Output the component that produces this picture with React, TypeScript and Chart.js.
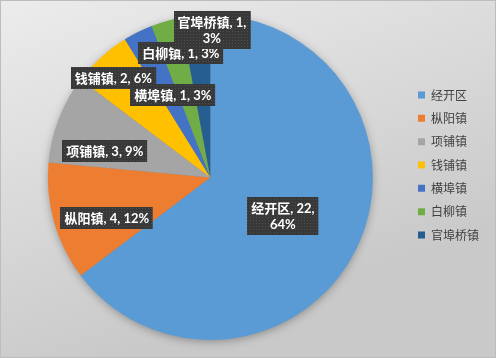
import React, { useEffect, useRef } from 'react';
import { Chart, registerables } from 'chart.js';

Chart.register(...registerables);

// ---- data ----
const CATEGORIES: string[] = ['经开区', '枞阳镇', '项铺镇', '钱铺镇', '横埠镇', '白柳镇', '官埠桥镇'];
const VALUES: number[] = [22, 4, 3, 2, 1, 1, 1];
const COLORS: string[] = ['#5B9BD5', '#ED7D31', '#A5A5A5', '#FFC000', '#4472C4', '#70AD47', '#255E91'];

// ---- label layout (placement only) ----
const LABEL_RADIUS: number[] = [0.504, 0.685, 0.67, 0.855, 0.56, 0.785, 0.908];
const LABEL_ANGLE_SHIFT: number[] = [1.2, -5.7, -7.1, -1.9, 2.2, 2.5, 5.9];
const LABEL_WRAP: boolean[] = [true, false, false, false, false, false, true];

const NAME_FONT = 'bold 13px "Noto Sans CJK SC"';
const NUM_FONT = 'bold 13px Lato';

// Excel-style percentages (largest remainder so they sum to 100)
function percents(values: number[]): number[] {
  const total = values.reduce((a, b) => a + b, 0);
  const raw = values.map((v) => (v / total) * 100);
  const floors = raw.map((r) => Math.floor(r));
  let rest = 100 - floors.reduce((a, b) => a + b, 0);
  const order = raw
    .map((r, i) => ({ i, rem: r - Math.floor(r) }))
    .sort((a, b) => b.rem - a.rem);
  const out = floors.slice();
  for (let k = 0; k < order.length && rest > 0; k++, rest--) out[order[k].i] += 1;
  return out;
}
const PCTS = percents(VALUES);

function makePattern(ctx: CanvasRenderingContext2D): CanvasPattern | string {
  const c = document.createElement('canvas');
  c.width = 3;
  c.height = 3;
  const g = c.getContext('2d');
  if (!g) return '#3c3c3c';
  g.fillStyle = '#383838';
  g.fillRect(0, 0, 3, 3);
  g.fillStyle = '#4e4e4e';
  g.fillRect(1, 1, 1, 1);
  return ctx.createPattern(c, 'repeat') || '#3c3c3c';
}

const backgroundPlugin = {
  id: 'bgPlugin',
  beforeDraw(chart: any) {
    const { ctx, width, height } = chart;
    ctx.save();
    const grad = ctx.createLinearGradient(0, 0, width * 0.25, height);
    grad.addColorStop(0, '#ececec');
    grad.addColorStop(1, '#c9c9c9');
    ctx.fillStyle = grad;
    ctx.fillRect(0, 0, width, height);
    ctx.strokeStyle = '#bdbdbd';
    ctx.lineWidth = 1;
    ctx.strokeRect(0.5, 0.5, width - 1, height - 1);
    ctx.restore();
  },
  afterLayout(chart: any) {
    const lg = chart.legend;
    if (!lg) return;
    const pad = lg.options.labels.padding;
    const dx = 418 - pad - lg.left;
    lg.left += dx;
    lg.right += dx;
    const dy = -12.5;
    lg.top += dy;
    lg.bottom += dy;
  },
  beforeDatasetsDraw(chart: any) {
    const meta = chart.getDatasetMeta(0);
    const arc = meta.data[0];
    if (!arc) return;
    const { x, y, outerRadius } = arc.getProps(['x', 'y', 'outerRadius'], true);
    const ctx = chart.ctx;
    ctx.save();
    ctx.shadowColor = 'rgba(0,0,0,0.35)';
    ctx.shadowBlur = 10;
    ctx.shadowOffsetY = 2;
    ctx.fillStyle = '#888888';
    ctx.beginPath();
    ctx.arc(x, y, outerRadius - 1, 0, Math.PI * 2);
    ctx.fill();
    ctx.restore();
  },
};

const labelPlugin = {
  id: 'pieLabels',
  afterDatasetsDraw(chart: any) {
    const ctx: CanvasRenderingContext2D = chart.ctx;
    const meta = chart.getDatasetMeta(0);
    const pattern = makePattern(ctx);
    meta.data.forEach((arc: any, i: number) => {
      const { x, y, startAngle, endAngle, outerRadius } = arc.getProps(
        ['x', 'y', 'startAngle', 'endAngle', 'outerRadius'],
        true
      );
      const mid = (startAngle + endAngle) / 2 + (LABEL_ANGLE_SHIFT[i] * Math.PI) / 180;
      const r = outerRadius * LABEL_RADIUS[i];
      const cx = x + Math.cos(mid) * r;
      const cy = y + Math.sin(mid) * r;

      const name = CATEGORIES[i];
      const lines: { name: string; rest: string }[] = LABEL_WRAP[i]
        ? [
            { name, rest: `, ${VALUES[i]},` },
            { name: '', rest: `${PCTS[i]}%` },
          ]
        : [{ name, rest: `, ${VALUES[i]}, ${PCTS[i]}%` }];

      const widths = lines.map((ln) => {
        ctx.font = NAME_FONT;
        const a = ln.name ? ctx.measureText(ln.name).width : 0;
        ctx.font = NUM_FONT;
        const b = ctx.measureText(ln.rest).width;
        return { a, b, w: a + b };
      });
      const maxW = Math.max(...widths.map((w) => w.w));
      const lineH = 16;
      const boxW = maxW + 8;
      const boxH = lines.length * lineH + 6;
      const bx = Math.round(cx - boxW / 2);
      const by = Math.round(cy - boxH / 2);

      ctx.save();
      ctx.fillStyle = pattern as any;
      ctx.fillRect(bx, by, boxW, boxH);
      ctx.textBaseline = 'middle';
      ctx.textAlign = 'left';
      ctx.fillStyle = '#ffffff';
      lines.forEach((ln, k) => {
        const w = widths[k];
        const ly = by + 3 + lineH * k + lineH / 2 + 0.5;
        let tx = cx - w.w / 2;
        if (ln.name) {
          ctx.font = NAME_FONT;
          ctx.fillText(ln.name, tx, ly);
          tx += w.a;
        }
        ctx.font = NUM_FONT;
        ctx.fillText(ln.rest, tx, ly + 0.5);
      });
      ctx.restore();
    });
  },
};

export default function App() {
  const canvasRef = useRef<HTMLCanvasElement | null>(null);

  useEffect(() => {
    document.body.style.margin = '0';
    const canvas = canvasRef.current;
    if (!canvas) return;
    const chart = new Chart(canvas, {
      type: 'pie',
      data: {
        labels: CATEGORIES,
        datasets: [
          {
            data: VALUES,
            backgroundColor: COLORS,
            borderColor: COLORS,
            borderWidth: 0,
          },
        ],
      },
      options: {
        responsive: false,
        animation: false,
        devicePixelRatio: 1,
        layout: { padding: { left: 47, right: 40, top: 15, bottom: 18 } },
        plugins: {
          legend: {
            position: 'right',
            labels: {
              boxWidth: 7,
              boxHeight: 7,
              padding: 11.33,
              color: '#404040',
              font: { family: '"Noto Sans CJK SC"', size: 12 },
            },
          },
          tooltip: { enabled: false },
        },
      },
      plugins: [backgroundPlugin, labelPlugin],
    });
    return () => chart.destroy();
  }, []);

  return (
    <div style={{ width: 496, height: 358 }}>
      <canvas ref={canvasRef} width={496} height={358} style={{ display: 'block' }} />
    </div>
  );
}
